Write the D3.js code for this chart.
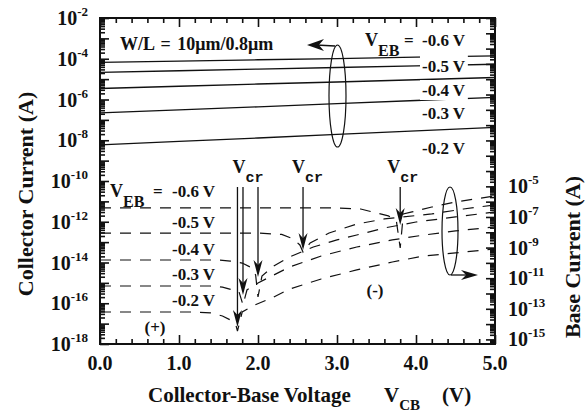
<!DOCTYPE html>
<html><head><meta charset="utf-8">
<script src="https://cdn.jsdelivr.net/npm/d3@7"></script>
<style>
body{margin:0;background:#fff}
text{font-family:"Liberation Serif","Times New Roman",serif;font-weight:bold;fill:#111}
</style>
</head><body>
<svg id="chart" width="588" height="412"></svg>
<script>
// ---- data -------------------------------------------------------------
// Collector current (log10 A) vs V_CB, one series per V_EB
const vcbIc = [0, 1, 2, 3, 4, 5];
const icVeb06 = [-4.18, -4.12, -4.05, -3.99, -3.92, -3.86];
const icVeb05 = [-4.67, -4.59, -4.51, -4.43, -4.35, -4.27];
const icVeb04 = [-5.46, -5.35, -5.24, -5.14, -5.03, -4.92];
const icVeb03 = [-6.66, -6.51, -6.36, -6.20, -6.05, -5.90];
const icVeb02 = [-8.23, -8.06, -7.89, -7.71, -7.54, -7.37];

// Base current (log10 A) vs V_CB, one series per V_EB
const vcbIb06 = [0, 1, 2, 3, 3.3, 3.4, 3.65, 3.75, 3.8, 3.84, 3.95, 4.2, 4.5, 4.75, 5.0];
const ibVeb06 = [-6.41, -6.41, -6.41, -6.41, -6.48, -6.61, -6.93, -7.20, -9.03, -6.80, -6.67, -6.35, -6.02, -5.82, -5.63];
const vcbIb05 = [0, 1, 2, 2.3, 2.45, 2.53, 2.57, 2.66, 2.9, 3.25, 3.6, 4.2, 4.6, 5.0];
const ibVeb05 = [-8.05, -8.05, -8.05, -8.14, -8.44, -8.83, -9.29, -8.70, -8.05, -7.46, -7.13, -6.80, -6.48, -6.21];
const vcbIb04 = [0, 1, 1.5, 1.65, 1.8, 1.9, 1.97, 2.0, 2.05, 2.2, 2.4, 2.7, 3.0, 3.25, 3.6, 4.0, 4.5, 5.0];
const ibVeb04 = [-9.81, -9.81, -9.81, -9.88, -10.01, -10.27, -10.79, -12.23, -10.86, -10.20, -9.61, -8.96, -8.50, -8.18, -7.72, -7.33, -7.00, -6.67];
const vcbIb03 = [0, 1, 1.4, 1.55, 1.68, 1.76, 1.81, 1.86, 2.0, 2.2, 2.4, 2.8, 3.25, 3.7, 4.1, 4.5, 5.0];
const ibVeb03 = [-11.51, -11.51, -11.51, -11.58, -11.77, -11.90, -12.75, -11.77, -11.31, -10.79, -10.27, -9.55, -8.96, -8.50, -8.18, -7.91, -7.65];
const vcbIb02 = [0, 1, 1.2, 1.4, 1.55, 1.65, 1.72, 1.74, 1.8, 1.96, 2.2, 2.4, 2.8, 3.25, 3.7, 4.1, 4.5, 5.0];
const ibVeb02 = [-13.21, -13.21, -13.21, -13.27, -13.47, -13.73, -14.06, -14.45, -13.21, -12.75, -12.23, -11.71, -11.05, -10.46, -9.94, -9.55, -9.35, -9.09];

const vebLabels = ["-0.6 V", "-0.5 V", "-0.4 V", "-0.3 V", "-0.2 V"];

// Critical voltages (V_cr) and the base-current level each arrow points to
const vcrValues = [1.74, 1.81, 2.0, 2.57, 3.8];
const vcrTipIb = [-14.19, -12.10, -10.92, -9.16, -7.52];

// Axis ticks
const xTickValues = [0, 1, 2, 3, 4, 5];
const xTickLabels = ["0.0", "1.0", "2.0", "3.0", "4.0", "5.0"];
const leftLabelExps = [-2, -4, -6, -8, -10, -12, -14, -16, -18];
const rightLabelExps = [-5, -7, -9, -11, -13, -15];

// ---- layout -----------------------------------------------------------
const svg = d3.select("#chart");
const L = 100, R = 495, T = 18, B = 344;
const x = d3.scaleLinear().domain([0, 5]).range([L, R]);
const yL = d3.scaleLog().domain([1e-18, 1e-2]).range([B, T]);
const yR = d3.scaleLog().domain([Math.pow(10, -15.3), 1e6]).range([B, T]);

// decade and in-between tick values for a log axis
function logTicks(lo, hi) {
  const maj = [], min = [];
  for (let k = Math.floor(lo); k <= Math.ceil(hi); k++) {
    const v = Math.pow(10, k);
    if (k >= lo && k <= hi) maj.push(v);
    for (let m = 2; m <= 9; m++) {
      const e = k + Math.log10(m);
      if (e >= lo && e <= hi) min.push(m * v);
    }
  }
  return {maj, min};
}
const lt = logTicks(-18, -2);
const rt = logTicks(-15.3, 6);
const xMinor = d3.range(0, 5.001, 0.2).map(v => +v.toFixed(1)).filter(v => Math.abs(v - Math.round(v)) > 1e-6);

function styleAxis(g) {
  g.select(".domain").remove();
  g.selectAll("line").attr("stroke", "#111").attr("stroke-width", 1.6);
}

// left axis ticks (inward)
svg.append("g").attr("transform", `translate(${L},0)`)
  .call(d3.axisLeft(yL).tickValues(lt.maj).tickSize(-9).tickFormat("")).call(styleAxis);
svg.append("g").attr("transform", `translate(${L},0)`)
  .call(d3.axisLeft(yL).tickValues(lt.min).tickSize(-5).tickFormat("")).call(styleAxis);
// right axis ticks (inward)
svg.append("g").attr("transform", `translate(${R},0)`)
  .call(d3.axisRight(yR).tickValues(rt.maj).tickSize(-9).tickFormat("")).call(styleAxis);
svg.append("g").attr("transform", `translate(${R},0)`)
  .call(d3.axisRight(yR).tickValues(rt.min).tickSize(-5).tickFormat("")).call(styleAxis);
// bottom and top ticks (inward)
svg.append("g").attr("transform", `translate(0,${B})`)
  .call(d3.axisBottom(x).tickValues(xTickValues).tickSize(-9).tickFormat("")).call(styleAxis);
svg.append("g").attr("transform", `translate(0,${B})`)
  .call(d3.axisBottom(x).tickValues(xMinor).tickSize(-5).tickFormat("")).call(styleAxis);
svg.append("g").attr("transform", `translate(0,${T})`)
  .call(d3.axisTop(x).tickValues(xTickValues).tickSize(-9).tickFormat("")).call(styleAxis);
svg.append("g").attr("transform", `translate(0,${T})`)
  .call(d3.axisTop(x).tickValues(xMinor).tickSize(-5).tickFormat("")).call(styleAxis);

// frame
svg.append("rect").attr("x", L).attr("y", T).attr("width", R - L).attr("height", B - T)
  .attr("fill", "none").attr("stroke", "#111").attr("stroke-width", 2);

// tick labels
function powLabel(g, xp, yp, exp, anchor) {
  const t = g.append("text").attr("x", xp).attr("y", yp).attr("text-anchor", anchor)
    .style("font-size", "20px");
  t.append("tspan").text("10");
  t.append("tspan").attr("dy", -9).style("font-size", "13px").text(String(exp));
}
const gl = svg.append("g");
leftLabelExps.forEach(e => powLabel(gl, 88, yL(Math.pow(10, e)) + 7, e, "end"));
rightLabelExps.forEach(e => powLabel(gl, 508, yR(Math.pow(10, e)) + 7, e, "start"));
xTickValues.forEach((v, i) => {
  gl.append("text").attr("x", x(v)).attr("y", 370).attr("text-anchor", "middle")
    .style("font-size", "20px").text(xTickLabels[i]);
});

// axis titles
svg.append("text").attr("transform", "translate(33,194) rotate(-90)").attr("text-anchor", "middle")
  .style("font-size", "22px").text("Collector Current (A)");
svg.append("text").attr("transform", "translate(580,257) rotate(-90)").attr("text-anchor", "middle")
  .style("font-size", "22px").text("Base Current (A)");
const xt = svg.append("text").attr("x", 148).attr("y", 402).style("font-size", "21px");
xt.append("tspan").text("Collector-Base Voltage");
xt.append("tspan").attr("x", 384).text("V");
xt.append("tspan").attr("dy", 8).style("font-size", "15px").text("CB");
xt.append("tspan").attr("x", 442).attr("dy", -8).text("(V)");

// ---- collector current (solid) ----------------------------------------
const icSeries = [icVeb06, icVeb05, icVeb04, icVeb03, icVeb02];
const lineIc = d3.line().x(d => x(d[0])).y(d => yL(Math.pow(10, d[1])));
svg.append("g").selectAll("path").data(icSeries).join("path")
  .attr("d", s => lineIc(vcbIc.map((v, i) => [v, s[i]])))
  .attr("fill", "none").attr("stroke", "#111").attr("stroke-width", 1.3);

// ---- base current (dashed) --------------------------------------------
const ibSeries = [[vcbIb06, ibVeb06], [vcbIb05, ibVeb05], [vcbIb04, ibVeb04], [vcbIb03, ibVeb03], [vcbIb02, ibVeb02]];
const lineIb = d3.line().x(d => x(d[0])).y(d => yR(Math.pow(10, d[1])));
svg.append("g").selectAll("path").data(ibSeries).join("path")
  .attr("d", s => lineIb(s[0].map((v, i) => [v, s[1][i]])))
  .attr("fill", "none").attr("stroke", "#111").attr("stroke-width", 1.2)
  .attr("stroke-dasharray", "11,9");

// ---- annotations ------------------------------------------------------
const ann = svg.append("g");
function arrowHead(g, tx, ty, angleDeg, len, half) {
  g.append("path")
    .attr("d", `M0,0 L${-len},${-half} L${-len * 0.7},0 L${-len},${half} Z`)
    .attr("transform", `translate(${tx},${ty}) rotate(${angleDeg})`)
    .attr("fill", "#111");
}

// W/L note and collector-current ellipse with arrow pointing left
ann.append("text").attr("x", 120).attr("y", 50).style("font-size", "18px")
  .style("word-spacing", "2px").text("W/L = 10\u03bcm/0.8\u03bcm");
ann.append("ellipse").attr("cx", 337.5).attr("cy", 96).attr("rx", 8.5).attr("ry", 51)
  .attr("fill", "none").attr("stroke", "#111").attr("stroke-width", 1.2);
ann.append("path").attr("d", "M335,46 L316,45").attr("stroke", "#111").attr("stroke-width", 1.3);
arrowHead(ann, 307, 45, 180, 17, 6);

// base-current ellipse with arrow pointing right
ann.append("ellipse").attr("cx", 450).attr("cy", 231).attr("rx", 8).attr("ry", 44)
  .attr("fill", "none").attr("stroke", "#111").attr("stroke-width", 1.2);
ann.append("path").attr("d", "M451,275 L466,275").attr("stroke", "#111").attr("stroke-width", 1.3);
arrowHead(ann, 478, 275, 0, 17, 5);

// right-hand labels for the solid lines
const solidLabelY = [46, 72, 96, 119, 154];
vebLabels.forEach((s, i) => {
  const t = ann.append("text").attr("x", 422).attr("y", solidLabelY[i]).style("font-size", "17px").text(s);
  const bb = t.node().getBBox();
  const padTop = i === 1 ? 5 : 1;
  ann.insert("rect", () => t.node()).attr("x", bb.x - 2).attr("y", bb.y - padTop)
    .attr("width", bb.width + 4).attr("height", bb.height + padTop).attr("fill", "#fff");
});
// "V_EB =" heading placed ahead of the first label of each group
function vebTitle(g, xv, yb, xEq) {
  const t = g.append("text").attr("x", xv).attr("y", yb).style("font-size", "18px");
  t.append("tspan").text("V");
  t.append("tspan").attr("dy", 10).style("font-size", "16px").text("EB");
  g.append("text").attr("x", xEq).attr("y", yb).style("font-size", "17px").text("=");
}
vebTitle(ann, 365, 46, 404);

// left-hand labels for the dashed lines
const dashedLabelY = [197, 228, 255, 280, 306];
vebTitle(ann, 110, 197, 153);
vebLabels.forEach((s, i) => {
  ann.append("text").attr("x", 172).attr("y", dashedLabelY[i]).style("font-size", "17px").text(s);
});

// V_cr arrows
const arrowTop = 187;
vcrValues.forEach((v, i) => {
  const xv = x(v), yt = yR(Math.pow(10, vcrTipIb[i]));
  ann.append("path").attr("d", `M${xv},${arrowTop} L${xv},${yt - 10}`)
    .attr("stroke", "#111").attr("stroke-width", 1.3);
  arrowHead(ann, xv, yt, 90, 17, 4.5);
});
const vcrLabelAt = [[1.74, -5], [2.57, -11], [3.8, -13]];
vcrLabelAt.forEach(([v, dx]) => {
  const t = ann.append("text").attr("x", x(v) + dx).attr("y", 173).style("font-size", "18px");
  t.append("tspan").text("V");
  t.append("tspan").attr("dy", 9).style("font-family", "'Liberation Mono',monospace")
    .style("font-size", "15px").text("cr");
});

// polarity marks
ann.append("text").attr("x", 155).attr("y", 333).attr("text-anchor", "middle").style("font-size", "17px").text("(+)");
ann.append("text").attr("x", 375).attr("y", 296).attr("text-anchor", "middle").style("font-size", "17px").text("(-)");
</script>
</body></html>
